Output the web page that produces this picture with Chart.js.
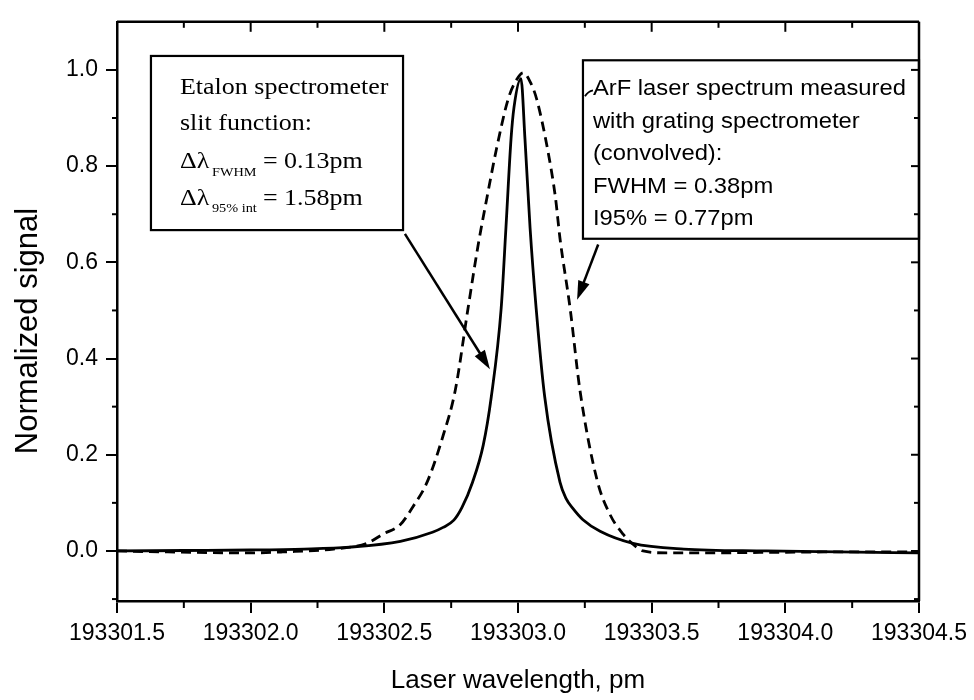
<!DOCTYPE html>
<html lang="en">
<head>
<meta charset="UTF-8">
<title>Etalon slit function vs ArF laser spectrum</title>
<script src="https://cdn.jsdelivr.net/npm/chart.js"></script>
<style>
    body, html {
        margin: 0;
        padding: 0;
        background: #ffffff;
    }
    .wrap {
        width: 974px;
        height: 700px;
    }
</style>
</head>
<body>
<div class="wrap">
    <canvas id="spectrumChart" width="974" height="700"></canvas>
</div>

<script>
// axis ticks
const xTicks = [193301.5, 193302.0, 193302.5, 193303.0, 193303.5, 193304.0, 193304.5];
const xMinor = [193301.75, 193302.25, 193302.75, 193303.25, 193303.75, 193304.25];
const yTicks = [0.0, 0.2, 0.4, 0.6, 0.8, 1.0];
const yMinor = [-0.1, 0.1, 0.3, 0.5, 0.7, 0.9];

// etalon spectrometer slit function (solid)
const slitX = [193301.50, 193301.75, 193302.00, 193302.20, 193302.37, 193302.56, 193302.68, 193302.72,
               193302.76, 193302.79, 193302.83, 193302.87, 193302.90, 193302.937, 193302.955, 193302.974,
               193302.985, 193303.011, 193303.026, 193303.045, 193303.068, 193303.10, 193303.157, 193303.18,
               193303.206, 193303.243, 193303.307, 193303.43, 193303.62, 193303.93, 193304.20, 193304.50];
const slitY = [0.000, 0.001, 0.002, 0.004, 0.008, 0.020, 0.039, 0.049,
               0.064, 0.090, 0.143, 0.220, 0.320, 0.504, 0.673, 0.857,
               0.922, 0.982, 0.857, 0.673, 0.504, 0.320, 0.143, 0.109,
               0.088, 0.065, 0.041, 0.016, 0.004, 0.000, -0.002, -0.004];

// ArF laser spectrum, grating spectrometer (dashed)
const arfX = [193301.50, 193301.69, 193302.00, 193302.12, 193302.31, 193302.435, 193302.495, 193302.56,
              193302.607, 193302.66, 193302.72, 193302.765, 193302.813, 193302.85, 193302.884, 193302.92,
              193302.963, 193302.99, 193303.02, 193303.05, 193303.07, 193303.11, 193303.14, 193303.157,
              193303.195, 193303.232, 193303.296, 193303.344, 193303.393, 193303.43, 193303.468, 193303.558,
              193303.68, 193303.93, 193304.20, 193304.50];
const arfY = [0.000, -0.002, -0.004, -0.002, 0.004, 0.016, 0.035, 0.055,
              0.092, 0.143, 0.240, 0.333, 0.504, 0.633, 0.735, 0.837,
              0.939, 0.975, 0.994, 0.970, 0.939, 0.837, 0.735, 0.650,
              0.504, 0.333, 0.147, 0.076, 0.035, 0.014, 0.000, -0.004,
              -0.004, -0.003, -0.002, -0.002];

const toPoints = (xs, ys) => xs.map((x, i) => ({ x: x, y: ys[i] }));

const sans = 'Liberation Sans, Arial, sans-serif';
const serif = 'Liberation Serif, Times New Roman, serif';

function stretchText(ctx, s, x, y, font, sx) {
    ctx.save();
    ctx.translate(x, y);
    ctx.scale(sx, 1);
    ctx.font = font;
    ctx.fillText(s, 0, 0);
    ctx.restore();
}

function arrow(ctx, x1, y1, x2, y2) {
    const ang = Math.atan2(y2 - y1, x2 - x1);
    const len = 19, half = 6;
    ctx.beginPath();
    ctx.moveTo(x1, y1);
    ctx.lineTo(x2 - Math.cos(ang) * len * 0.8, y2 - Math.sin(ang) * len * 0.8);
    ctx.stroke();
    ctx.beginPath();
    ctx.moveTo(x2, y2);
    ctx.lineTo(x2 - Math.cos(ang) * len - Math.sin(ang) * half, y2 - Math.sin(ang) * len + Math.cos(ang) * half);
    ctx.lineTo(x2 - Math.cos(ang) * len + Math.sin(ang) * half, y2 - Math.sin(ang) * len - Math.cos(ang) * half);
    ctx.closePath();
    ctx.fill();
}

// frame, mirrored and minor ticks
const frameTicks = {
    id: 'frameTicks',
    afterDraw(chart) {
        const { ctx, chartArea: a, scales: { x, y } } = chart;
        const seg = (x1, y1, x2, y2) => { ctx.beginPath(); ctx.moveTo(x1, y1); ctx.lineTo(x2, y2); ctx.stroke(); };
        ctx.save();
        ctx.strokeStyle = '#000';
        ctx.lineWidth = 2.5;
        seg(a.left, a.top, a.right, a.top);
        seg(a.right, a.top, a.right, a.bottom);
        ctx.lineWidth = 2;
        xTicks.forEach(v => { const p = x.getPixelForValue(v); seg(p, a.top, p, a.top + 10); });
        xMinor.forEach(v => {
            const p = x.getPixelForValue(v);
            seg(p, a.bottom, p, a.bottom + 7);
            seg(p, a.top, p, a.top + 6);
        });
        yTicks.forEach(v => { const p = y.getPixelForValue(v); seg(a.right, p, a.right - 8, p); });
        yMinor.forEach(v => {
            const p = y.getPixelForValue(v);
            seg(a.left, p, a.left - 5, p);
            seg(a.right, p, a.right - 5, p);
        });

        // y axis title
        ctx.fillStyle = '#000';
        ctx.translate(28, 331);
        ctx.rotate(-Math.PI / 2);
        ctx.textAlign = 'center';
        ctx.textBaseline = 'middle';
        ctx.font = '31px ' + sans;
        ctx.fillText('Normalized signal', 0, 0);
        ctx.restore();
    }
};

// text boxes and arrows
const notes = {
    id: 'notes',
    afterDatasetsDraw(chart) {
        const { ctx, scales: { x, y } } = chart;
        ctx.save();
        ctx.strokeStyle = '#000';
        ctx.fillStyle = '#000';
        ctx.lineWidth = 2.2;
        ctx.textBaseline = 'alphabetic';

        // left box
        const l1 = x.getPixelForValue(193301.627), t1 = y.getPixelForValue(1.029);
        const r1 = x.getPixelForValue(193302.570), b1 = y.getPixelForValue(0.667);
        ctx.fillStyle = '#fff';
        ctx.fillRect(l1, t1, r1 - l1, b1 - t1);
        ctx.strokeRect(l1, t1, r1 - l1, b1 - t1);
        ctx.fillStyle = '#000';
        const f1 = '23px ' + serif, fs = '13px ' + serif, sx1 = 1.13;
        stretchText(ctx, 'Etalon spectrometer', l1 + 29, t1 + 38, f1, sx1);
        stretchText(ctx, 'slit function:', l1 + 29, t1 + 74, f1, sx1);
        stretchText(ctx, 'Δλ', l1 + 29, t1 + 112, f1, sx1);
        stretchText(ctx, 'FWHM', l1 + 61, t1 + 120, fs, 1.1);
        stretchText(ctx, '= 0.13pm', l1 + 112, t1 + 112, f1, sx1);
        stretchText(ctx, 'Δλ', l1 + 29, t1 + 149, f1, sx1);
        stretchText(ctx, '95% int', l1 + 61, t1 + 156, fs, 1.1);
        stretchText(ctx, '= 1.58pm', l1 + 112, t1 + 149, f1, sx1);

        // right box
        const l2 = x.getPixelForValue(193303.243), t2 = y.getPixelForValue(1.020);
        const r2 = x.getPixelForValue(193304.5), b2 = y.getPixelForValue(0.649);
        ctx.fillStyle = '#fff';
        ctx.fillRect(l2, t2, r2 - l2, b2 - t2);
        ctx.strokeRect(l2, t2, r2 - l2, b2 - t2);
        ctx.fillStyle = '#000';
        const f2 = '22px ' + sans, sx2 = 1.08;
        const lines = ['ArF laser spectrum measured', 'with grating spectrometer', '(convolved):',
                       'FWHM = 0.38pm', 'I95% = 0.77pm'];
        lines.forEach((s, i) => stretchText(ctx, s, l2 + 10, t2 + 35 + i * 32.5, f2, sx2));
        ctx.lineWidth = 1.8;
        ctx.beginPath();
        ctx.moveTo(l2 + 2, t2 + 36);
        ctx.quadraticCurveTo(l2 + 5, t2 + 31, l2 + 10, t2 + 30);
        ctx.stroke();

        // arrows
        ctx.lineWidth = 2.5;
        arrow(ctx, x.getPixelForValue(193302.577), y.getPixelForValue(0.659),
                   x.getPixelForValue(193302.895), y.getPixelForValue(0.378));
        arrow(ctx, x.getPixelForValue(193303.300), y.getPixelForValue(0.637),
                   x.getPixelForValue(193303.221), y.getPixelForValue(0.522));
        ctx.restore();
    }
};

new Chart(document.getElementById('spectrumChart').getContext('2d'), {
    type: 'line',
    data: {
        datasets: [
            {
                label: 'Etalon slit function',
                data: toPoints(slitX, slitY),
                borderColor: '#000',
                borderWidth: 2.8,
                pointRadius: 0,
                cubicInterpolationMode: 'monotone',
                fill: false
            },
            {
                label: 'ArF spectrum (grating)',
                data: toPoints(arfX, arfY),
                borderColor: '#000',
                borderWidth: 2.8,
                borderDash: [10, 6],
                pointRadius: 0,
                cubicInterpolationMode: 'monotone',
                fill: false
            }
        ]
    },
    options: {
        responsive: false,
        animation: false,
        events: [],
        layout: { padding: { left: 0, right: 55, top: 11, bottom: 0 } },
        plugins: {
            legend: { display: false },
            tooltip: { enabled: false }
        },
        scales: {
            x: {
                type: 'linear',
                min: 193301.5,
                max: 193304.5,
                afterBuildTicks: s => { s.ticks = xTicks.map(v => ({ value: v })); },
                afterFit: s => { s.height = 99; },
                ticks: {
                    callback: v => v.toFixed(1),
                    color: '#000',
                    font: { family: sans, size: 23 },
                    padding: 7,
                    maxRotation: 0,
                    autoSkip: false
                },
                grid: { drawOnChartArea: false, color: '#000', lineWidth: 2, tickLength: 12 },
                border: { color: '#000', width: 2.5 },
                title: {
                    display: true,
                    text: 'Laser wavelength, pm',
                    color: '#000',
                    font: { family: sans, size: 26 },
                    padding: { top: 0, bottom: 4 }
                }
            },
            y: {
                type: 'linear',
                min: -0.104,
                max: 1.1,
                afterBuildTicks: s => { s.ticks = yTicks.map(v => ({ value: v })); },
                afterFit: s => { s.width = 117; },
                ticks: {
                    callback: v => v.toFixed(1),
                    color: '#000',
                    font: { family: sans, size: 23 },
                    padding: 8
                },
                grid: { drawOnChartArea: false, color: '#000', lineWidth: 2, tickLength: 11 },
                border: { color: '#000', width: 2.5 }
            }
        }
    },
    plugins: [frameTicks, notes]
});
</script>
</body>
</html>
